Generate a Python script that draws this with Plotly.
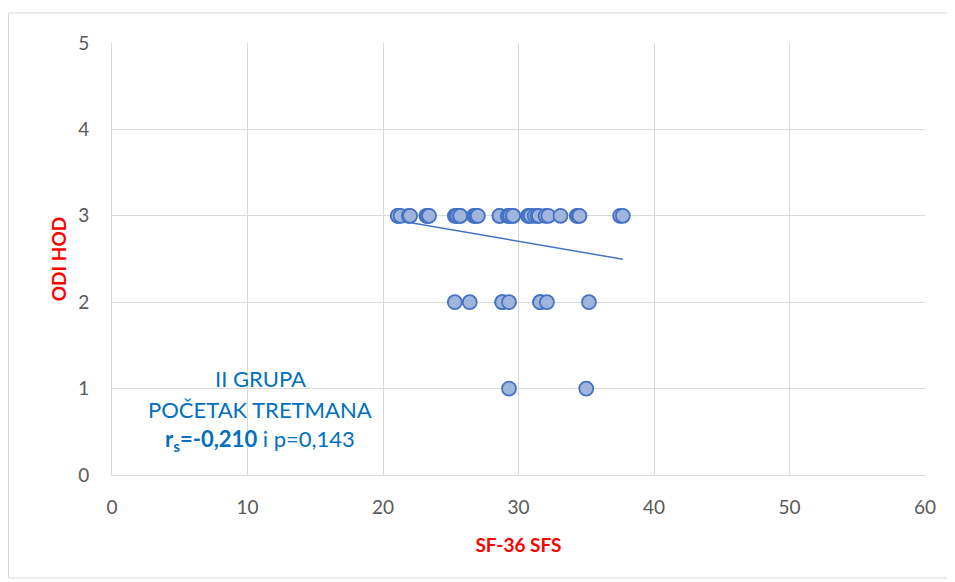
import plotly.graph_objects as go
import numpy as np

# SF-36 SFS (x) vs ODI HOD (y), n = 50 (many points overlap)
sfs_3 = [21.1, 21.1, 21.3, 21.9, 22.0, 23.2, 23.3, 23.3, 23.4, 25.3, 25.4, 25.5, 25.7, 25.7,
         26.7, 26.8, 26.9, 27.0, 28.6, 28.6, 29.2, 29.3, 29.4, 29.6, 29.6, 30.7, 30.8, 30.9,
         31.2, 31.4, 31.5, 32.0, 32.2, 33.1, 34.3, 34.4, 34.5, 37.5, 37.7]
sfs_2 = [25.3, 26.4, 28.8, 28.8, 29.3, 31.6, 31.6, 32.1, 35.2]
sfs_1 = [29.3, 35.0]
odi_3 = [3] * len(sfs_3)
odi_2 = [2] * len(sfs_2)
odi_1 = [1] * len(sfs_1)

x_vals = np.array(sfs_3 + sfs_2 + sfs_1)
y_vals = np.array(odi_3 + odi_2 + odi_1)

x_ticks = [0, 10, 20, 30, 40, 50, 60]
y_ticks = [0, 1, 2, 3, 4, 5]

label_lines = ["II GRUPA", "POČETAK TRETMANA", "<b>r<sub>s</sub>=-0,210</b> i p=0,143"]

font_family = "Lato, 'Open Sans', sans-serif"

# linear trend line (least squares), like Excel's trendline
slope, intercept = np.polyfit(x_vals, y_vals, 1)
tx = np.array([x_vals.min(), x_vals.max()])
ty = slope * tx + intercept

# pixel layout (page has an 8px body margin, so shift by it)
OFF = 8
W, H = 955, 582
L, R, T, B = 112 - OFF, 925 - OFF, 43 - OFF, 475 - OFF


def px_x(p):
    return (p - OFF - L) / (R - L)


def px_y(p):
    return (B - (p - OFF)) / (B - T)


fig = go.Figure()

fig.add_trace(go.Scatter(
    x=tx, y=ty, mode="lines",
    line=dict(color="#4472C4", width=1.5),
    hoverinfo="skip"
))

fig.add_trace(go.Scatter(
    x=x_vals, y=y_vals, mode="markers",
    marker=dict(size=14, color="#A0B5DC", line=dict(color="#4472C4", width=1.8))
))

for i, line in enumerate(label_lines):
    fig.add_annotation(
        x=px_x(260), y=px_y(378 + 31 * i), xref="x domain", yref="y domain",
        text=line, showarrow=False, align="center",
        font=dict(family=font_family, size=22, color="#0070C0"),
        xanchor="center", yanchor="middle"
    )

# outer chart border
fig.add_shape(
    type="rect", xref="paper", yref="paper",
    x0=px_x(8.5), x1=px_x(953), y0=px_y(578), y1=px_y(13),
    line=dict(color="#D9D9D9", width=1), fillcolor="rgba(0,0,0,0)", layer="below"
)

fig.update_xaxes(
    range=[0, 60], tickvals=x_ticks, showgrid=True, gridcolor="#D9D9D9", gridwidth=1,
    showline=True, linecolor="#D9D9D9", zeroline=False, ticks="",
    tickfont=dict(family=font_family, size=19, color="#595959"),
    ticklabelstandoff=15,
    title=dict(text="<b>SF-36 SFS</b>", font=dict(family=font_family, size=19, color="#FF0000"), standoff=21)
)
fig.update_yaxes(
    range=[0, 5], tickvals=y_ticks, showgrid=True, gridcolor="#D9D9D9", gridwidth=1,
    showline=True, linecolor="#D9D9D9", zeroline=False, ticks="",
    tickfont=dict(family=font_family, size=19, color="#595959"),
    ticklabelstandoff=18,
    title=dict(text="<b>ODI HOD</b>", font=dict(family=font_family, size=19, color="#FF0000"), standoff=6)
)

fig.update_layout(
    width=W, height=H,
    margin=dict(l=L, r=W - R, t=T, b=H - B),
    paper_bgcolor="white", plot_bgcolor="white",
    showlegend=False
)

fig.write_html("out.html")
